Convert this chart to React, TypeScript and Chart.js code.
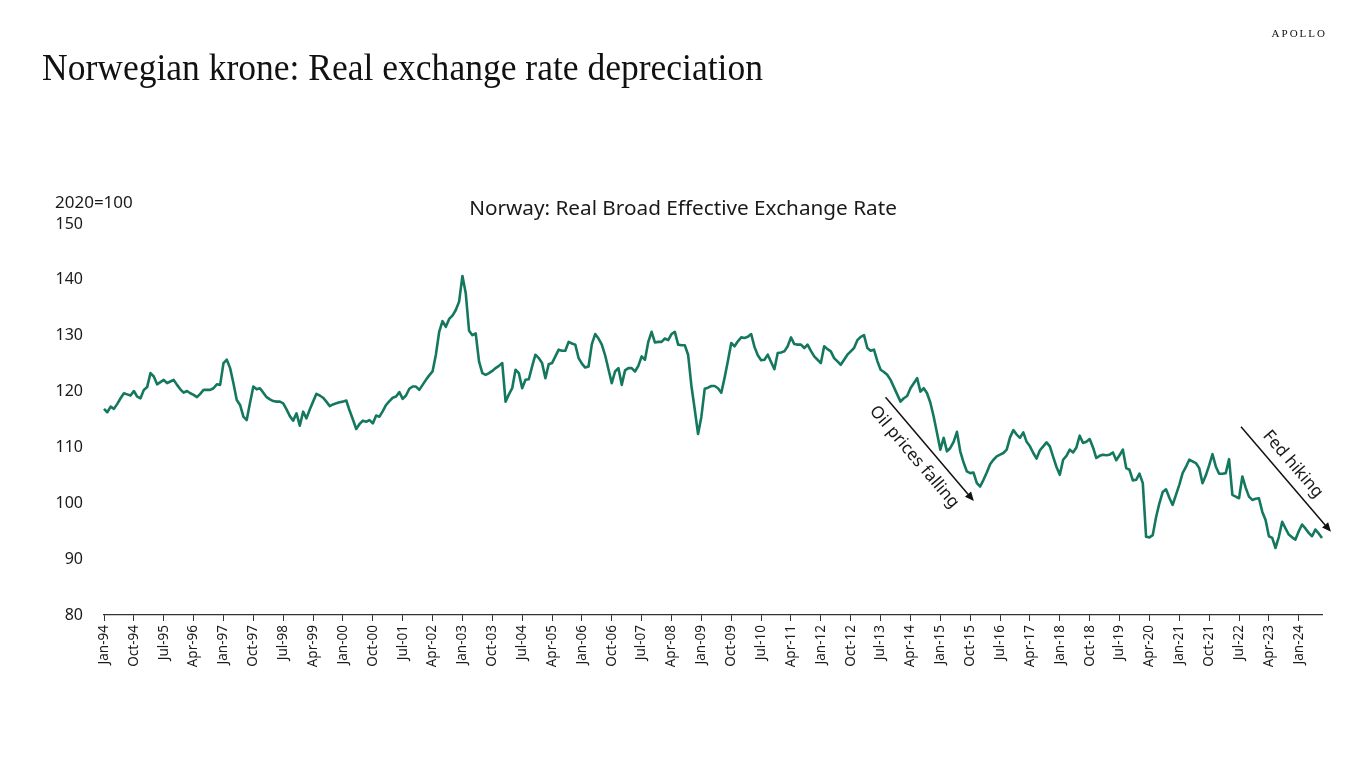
import { useEffect, useRef } from 'react';
import { Chart, registerables } from 'chart.js';

Chart.register(...registerables);

// ---------- DATA ----------
const START_YEAR = 1994;
const MONTH_NAMES = ['Jan', 'Feb', 'Mar', 'Apr', 'May', 'Jun', 'Jul', 'Aug', 'Sep', 'Oct', 'Nov', 'Dec'];

// Norway: Real Broad Effective Exchange Rate, 2020=100, monthly
const Y1994 = [116.9, 116.3, 117.3, 116.9, 117.8, 118.8, 119.7, 119.5, 119.3, 120.1, 119.1, 118.8];
const Y1995 = [120.3, 120.8, 123.3, 122.7, 121.3, 121.7, 122.1, 121.5, 121.8, 122.1, 121.2, 120.4];
const Y1996 = [119.8, 120.1, 119.7, 119.4, 119.0, 119.6, 120.3, 120.3, 120.3, 120.6, 121.3, 121.2];
const Y1997 = [125.1, 125.7, 124.2, 121.5, 118.5, 117.6, 115.5, 114.9, 118.0, 120.9, 120.4, 120.6];
const Y1998 = [119.8, 119.0, 118.6, 118.3, 118.2, 118.2, 117.9, 116.8, 115.6, 114.8, 116.1, 113.9];
const Y1999 = [116.4, 115.2, 116.8, 118.2, 119.6, 119.3, 118.9, 118.2, 117.4, 117.7, 117.9, 118.1];
const Y2000 = [118.2, 118.4, 116.6, 115.0, 113.3, 114.2, 114.8, 114.6, 114.9, 114.3, 115.7, 115.5];
const Y2001 = [116.5, 117.6, 118.3, 118.9, 119.1, 119.9, 118.7, 119.3, 120.5, 120.9, 120.9, 120.3];
const Y2002 = [121.2, 122.1, 122.9, 123.6, 126.6, 130.7, 132.6, 131.6, 133.0, 133.6, 134.6, 136.1];
const Y2003 = [140.7, 137.6, 130.9, 130.1, 130.4, 125.4, 123.3, 123.0, 123.3, 123.7, 124.2, 124.6];
const Y2004 = [125.1, 118.2, 119.5, 120.6, 123.9, 123.3, 120.6, 122.1, 122.2, 124.5, 126.6, 126.0];
const Y2005 = [125.1, 122.4, 124.9, 125.1, 126.3, 127.5, 127.3, 127.3, 128.9, 128.6, 128.4, 126.0];
const Y2006 = [125.0, 124.3, 124.5, 128.5, 130.3, 129.5, 128.4, 126.5, 124.0, 121.5, 123.6, 124.2];
const Y2007 = [121.2, 123.8, 124.2, 124.2, 123.6, 124.6, 126.3, 125.7, 128.9, 130.7, 128.8, 128.9];
const Y2008 = [128.9, 129.5, 129.2, 130.3, 130.7, 128.4, 128.3, 128.3, 126.6, 121.0, 116.8, 112.4];
const Y2009 = [115.5, 120.5, 120.7, 121.0, 121.0, 120.6, 119.8, 122.5, 125.5, 128.7, 128.1, 129.0];
const Y2010 = [129.7, 129.6, 129.8, 130.3, 128.0, 126.5, 125.6, 125.7, 126.6, 125.3, 124.0, 126.9];
const Y2011 = [127.0, 127.2, 128.1, 129.7, 128.5, 128.4, 128.4, 127.8, 128.4, 127.3, 126.3, 125.7];
const Y2012 = [125.1, 128.1, 127.6, 127.2, 126.0, 125.4, 124.8, 125.7, 126.6, 127.2, 127.8, 129.2];
const Y2013 = [129.8, 130.1, 127.8, 127.3, 127.5, 125.5, 123.9, 123.5, 123.0, 122.1, 120.8, 119.5];
const Y2014 = [118.2, 118.8, 119.2, 120.6, 121.5, 122.4, 120.0, 120.6, 119.7, 118.0, 115.5, 112.6];
const Y2015 = [109.6, 111.7, 109.3, 109.9, 111.0, 112.8, 109.3, 107.3, 105.7, 105.4, 105.5, 103.6];
const Y2016 = [103.0, 104.2, 105.5, 107.0, 107.8, 108.4, 108.7, 109.0, 109.6, 111.8, 113.1, 112.3];
const Y2017 = [111.7, 112.7, 111.0, 110.2, 109.0, 108.0, 109.5, 110.2, 110.9, 110.2, 108.3, 106.5];
const Y2018 = [105.1, 107.8, 108.5, 109.6, 109.1, 110.0, 112.1, 110.8, 111.0, 111.5, 110.0, 108.1];
const Y2019 = [108.5, 108.7, 108.6, 108.7, 109.1, 107.7, 108.6, 109.6, 106.3, 106.0, 104.1, 104.2];
const Y2020 = [105.3, 103.6, 94.0, 93.9, 94.3, 97.5, 100.0, 102.0, 102.5, 101.0, 99.7, 101.5];
const Y2021 = [103.3, 105.4, 106.5, 107.8, 107.5, 107.2, 106.3, 103.6, 105.0, 106.8, 108.8, 106.6];
const Y2022 = [105.3, 105.3, 105.4, 107.9, 101.5, 101.2, 100.9, 104.8, 102.8, 101.2, 100.6, 100.8];
const Y2023 = [100.9, 98.5, 97.0, 94.1, 93.8, 92.0, 94.0, 96.7, 95.5, 94.4, 93.9, 93.5];
const Y2024 = [95.0, 96.2, 95.5, 94.7, 94.1, 95.3, 94.6, 93.8];

const REER = [
  ...Y1994, ...Y1995, ...Y1996, ...Y1997, ...Y1998, ...Y1999, ...Y2000, ...Y2001,
  ...Y2002, ...Y2003, ...Y2004, ...Y2005, ...Y2006, ...Y2007, ...Y2008, ...Y2009,
  ...Y2010, ...Y2011, ...Y2012, ...Y2013, ...Y2014, ...Y2015, ...Y2016, ...Y2017,
  ...Y2018, ...Y2019, ...Y2020, ...Y2021, ...Y2022, ...Y2023, ...Y2024,
];

const CATEGORIES = REER.map(
  (_, i) => `${MONTH_NAMES[i % 12]}-${String((START_YEAR + Math.floor(i / 12)) % 100).padStart(2, '0')}`
);

const TICK_STEP_MONTHS = 9;
const Y_MIN = 80;
const Y_MAX = 150;
const Y_STEP = 10;

const TITLE = 'Norwegian krone: Real exchange rate depreciation';
const CHART_TITLE = 'Norway: Real Broad Effective Exchange Rate';
const UNIT_LABEL = '2020=100';
const BRAND = 'APOLLO';

// annotation arrows in data units: [category index, value]
const ANNOTATION_TEXTS = ['Oil prices falling', 'Fed hiking'];
const ANNOTATION_FROM = [[235.5, 119.0], [342.6, 113.7]];
const ANNOTATION_TO = [[262.1, 100.4], [369.7, 94.9]];
const ANNOTATION_SIDE = [-17, 15];
const ANNOTATION_SHIFT = [-4, -7];

// ---------- STYLE ----------
const SANS = '"Noto Sans", "Open Sans", sans-serif';
const SERIF = '"Liberation Serif", "DejaVu Serif", serif';
const LINE_COLOR = '#14785F';
const TEXT_COLOR = '#1a1a1a';

function fitFont(ctx: CanvasRenderingContext2D, text: string, family: string, target: number, base: number) {
  ctx.font = `${base}px ${family}`;
  const w = ctx.measureText(text).width;
  return (base * target) / w;
}

const decorPlugin = {
  id: 'decor',
  afterDraw(chart: any) {
    const { ctx, scales } = chart;
    const xs = scales.x;
    const ys = scales.y;
    ctx.save();

    // Main title (serif)
    ctx.fillStyle = '#111';
    ctx.textBaseline = 'alphabetic';
    ctx.textAlign = 'left';
    ctx.font = `37px ${SERIF}`;
    const tw = ctx.measureText(TITLE).width;
    ctx.save();
    ctx.translate(42, 80);
    ctx.scale(721 / tw, 1);
    ctx.fillText(TITLE, 0, 0);
    ctx.restore();

    // Brand
    ctx.font = `11px ${SERIF}`;
    (ctx as any).letterSpacing = '2px';
    ctx.textAlign = 'right';
    ctx.fillText(BRAND, 1327, 37);
    (ctx as any).letterSpacing = '0px';

    // chart title
    ctx.fillStyle = TEXT_COLOR;
    ctx.textAlign = 'center';
    const sz = fitFont(ctx, CHART_TITLE, SANS, 428, 17);
    ctx.font = `${sz}px ${SANS}`;
    ctx.fillText(CHART_TITLE, 683, 215);

    // unit label
    ctx.textAlign = 'left';
    const usz = fitFont(ctx, UNIT_LABEL, SANS, 82, 16);
    ctx.font = `${Math.min(usz, 17)}px ${SANS}`;
    ctx.fillText(UNIT_LABEL, 55, 208);

    // annotations
    ANNOTATION_TEXTS.forEach((text, i) => {
      const x0 = xs.getPixelForValue(ANNOTATION_FROM[i][0]);
      const y0 = ys.getPixelForValue(ANNOTATION_FROM[i][1]);
      const x1 = xs.getPixelForValue(ANNOTATION_TO[i][0]);
      const y1 = ys.getPixelForValue(ANNOTATION_TO[i][1]);
      const ang = Math.atan2(y1 - y0, x1 - x0);
      const c = Math.cos(ang);
      const s = Math.sin(ang);
      const head = 9;
      const half = 4;
      ctx.strokeStyle = '#111';
      ctx.fillStyle = '#111';
      ctx.lineWidth = 1.5;
      ctx.beginPath();
      ctx.moveTo(x0, y0);
      ctx.lineTo(x1 - head * c, y1 - head * s);
      ctx.stroke();
      ctx.beginPath();
      ctx.moveTo(x1, y1);
      ctx.lineTo(x1 - head * c + half * s, y1 - head * s - half * c);
      ctx.lineTo(x1 - head * c - half * s, y1 - head * s + half * c);
      ctx.closePath();
      ctx.fill();

      const mx = (x0 + x1) / 2 + ANNOTATION_SHIFT[i] * c + ANNOTATION_SIDE[i] * s;
      const my = (y0 + y1) / 2 + ANNOTATION_SHIFT[i] * s - ANNOTATION_SIDE[i] * c;
      ctx.save();
      ctx.translate(mx, my);
      ctx.rotate(ang);
      ctx.font = `17px ${SANS}`;
      ctx.fillStyle = TEXT_COLOR;
      ctx.textAlign = 'center';
      ctx.textBaseline = 'middle';
      ctx.fillText(text, 0, 0);
      ctx.restore();
    });

    ctx.restore();
  },
};

export default function App() {
  const canvasRef = useRef<HTMLCanvasElement | null>(null);

  useEffect(() => {
    if (!canvasRef.current) return;
    const chart = new Chart(canvasRef.current, {
      type: 'line',
      data: {
        labels: CATEGORIES,
        datasets: [
          {
            data: REER,
            borderColor: LINE_COLOR,
            borderWidth: 2.6,
            pointRadius: 0,
            tension: 0,
            fill: false,
            borderJoinStyle: 'round',
          },
        ],
      },
      options: {
        responsive: false,
        animation: false,
        devicePixelRatio: 1,
        layout: { padding: { top: 224, right: 44, left: 0, bottom: 0 } },
        plugins: {
          legend: { display: false },
          tooltip: { enabled: false },
          title: { display: false },
        },
        scales: {
          x: {
            type: 'category',
            offset: false,
            grid: {
              display: true,
              drawOnChartArea: false,
              drawTicks: true,
              tickLength: 6,
              color: '#333',
              lineWidth: 1,
            },
            border: { display: true, color: '#333', width: 1.2 },
            ticks: {
              autoSkip: false,
              minRotation: 90,
              maxRotation: 90,
              padding: 4,
              color: TEXT_COLOR,
              font: { family: SANS, size: 13.5 },
            },
            afterBuildTicks: (scale: any) => {
              scale.ticks = scale.ticks.filter((t: any) => t.value % TICK_STEP_MONTHS === 0);
            },
            afterFit: (scale: any) => {
              scale.height = 153;
            },
          },
          y: {
            min: Y_MIN,
            max: Y_MAX,
            ticks: {
              stepSize: Y_STEP,
              padding: 21,
              color: TEXT_COLOR,
              font: { family: SANS, size: 16 },
            },
            grid: { display: false, drawTicks: false },
            border: { display: false },
            afterFit: (scale: any) => {
              scale.width = 104;
            },
          },
        },
      },
      plugins: [decorPlugin],
    });
    return () => chart.destroy();
  }, []);

  return (
    <div style={{ position: 'absolute', left: 0, top: 0, width: 1366, height: 768, background: '#fff' }}>
      <canvas ref={canvasRef} width={1366} height={768} style={{ display: 'block', width: 1366, height: 768 }} />
    </div>
  );
}
